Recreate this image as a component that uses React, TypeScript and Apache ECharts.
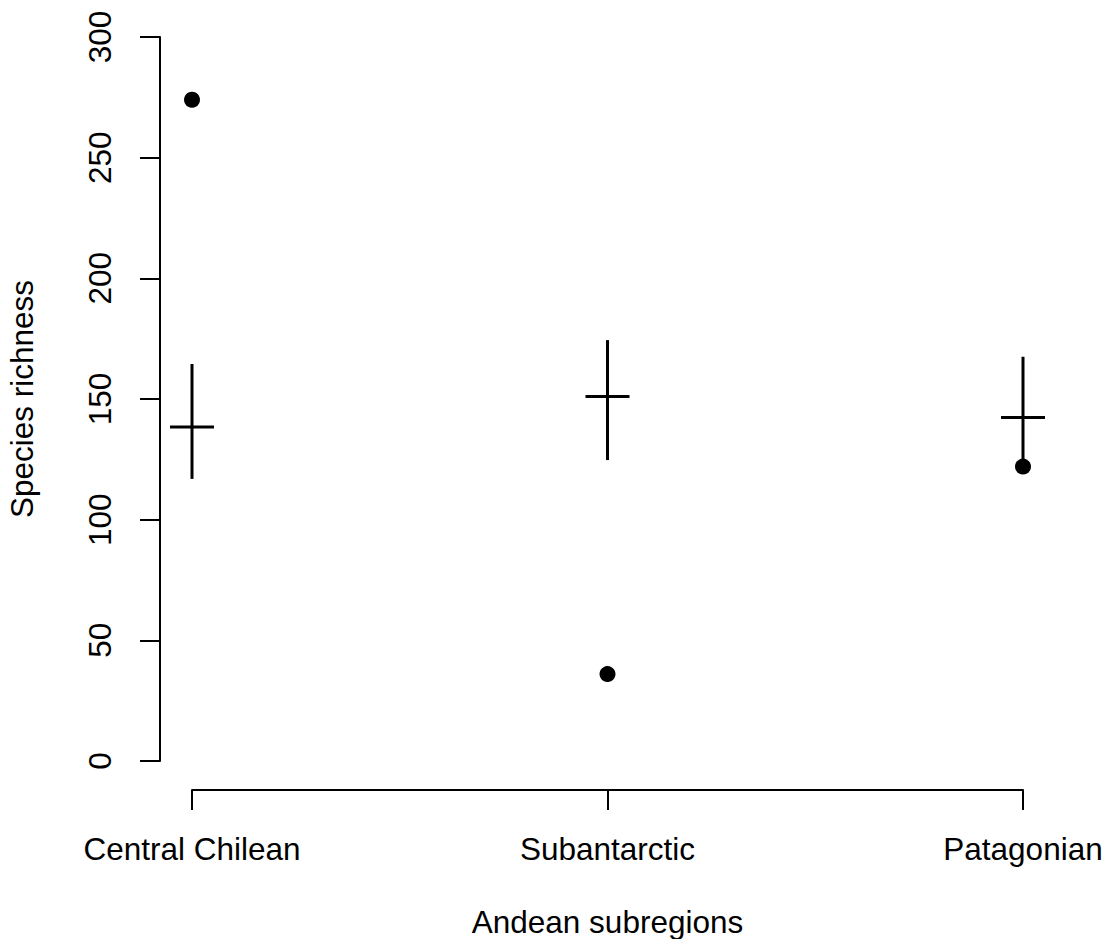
import React, { useEffect, useRef } from "react";
import * as echarts from "echarts";

const categories = ["Central Chilean", "Subantarctic", "Patagonian"];
const dotValues = [274, 36, 122];
const meanValues = [138.4, 151.0, 142.3];
const lowValues = [116.9, 124.7, 122.0];
const highValues = [164.5, 174.4, 167.5];
const yTicks = [0, 50, 100, 150, 200, 250, 300];

const FONT = "'Liberation Sans', Arial, Helvetica, sans-serif";

export default function App() {
  const ref = useRef<HTMLDivElement>(null);
  useEffect(() => {
    if (!ref.current) return;
    const chart = echarts.init(ref.current, undefined, { renderer: "svg" });
    const crossData = categories.map((_, i) => [i, meanValues[i], lowValues[i], highValues[i]]);
    chart.setOption({
      animation: false,
      backgroundColor: "#ffffff",
      grid: { left: 192, right: 83, top: 37, bottom: 178, containLabel: false, outerBoundsMode: "none" },
      xAxis: {
        type: "category",
        data: categories,
        boundaryGap: false,
        offset: 29,
        axisLine: { show: true, onZero: false, lineStyle: { color: "#000", width: 2 } },
        axisTick: { show: true, length: 20, alignWithLabel: true, lineStyle: { color: "#000", width: 2 } },
        axisLabel: { color: "#000", fontSize: 31.5, fontFamily: FONT, margin: 43 },
        splitLine: { show: false },
        name: "Andean subregions",
        nameLocation: "middle",
        nameGap: 116,
        nameTextStyle: { color: "#000", fontSize: 31.5, fontFamily: FONT },
      },
      yAxis: {
        type: "value",
        min: 0,
        max: 300,
        interval: 50,
        offset: 32,
        axisLine: { show: true, onZero: false, lineStyle: { color: "#000", width: 2 } },
        axisTick: { show: true, length: 20, lineStyle: { color: "#000", width: 2 } },
        axisLabel: {
          color: "#000",
          fontSize: 31.5,
          fontFamily: FONT,
          rotate: 90,
          margin: 44,
          formatter: (v: number) => (yTicks.includes(v) ? String(v) : ""),
        },
        splitLine: { show: false },
        name: "Species richness",
        nameLocation: "middle",
        nameRotate: 90,
        nameGap: 122,
        nameTextStyle: { color: "#000", fontSize: 31.5, fontFamily: FONT },
      },
      series: [
        {
          type: "custom",
          data: crossData,
          renderItem: (params: any, api: any) => {
            const x = api.value(0);
            const c = api.coord([x, api.value(1)]);
            const lo = api.coord([x, api.value(2)]);
            const hi = api.coord([x, api.value(3)]);
            const style = { stroke: "#000", lineWidth: 3 };
            return {
              type: "group",
              children: [
                { type: "line", shape: { x1: lo[0], y1: lo[1], x2: hi[0], y2: hi[1] }, style },
                { type: "line", shape: { x1: c[0] - 22, y1: c[1], x2: c[0] + 22, y2: c[1] }, style },
              ],
            };
          },
        },
        {
          type: "scatter",
          data: dotValues.map((v, i) => [i, v]),
          symbol: "circle",
          symbolSize: 16,
          itemStyle: { color: "#000", opacity: 1 },
        },
      ],
    });
    return () => chart.dispose();
  }, []);
  return <div ref={ref} style={{ width: 1106, height: 939, position: "absolute", left: 0, top: 0 }} />;
}
